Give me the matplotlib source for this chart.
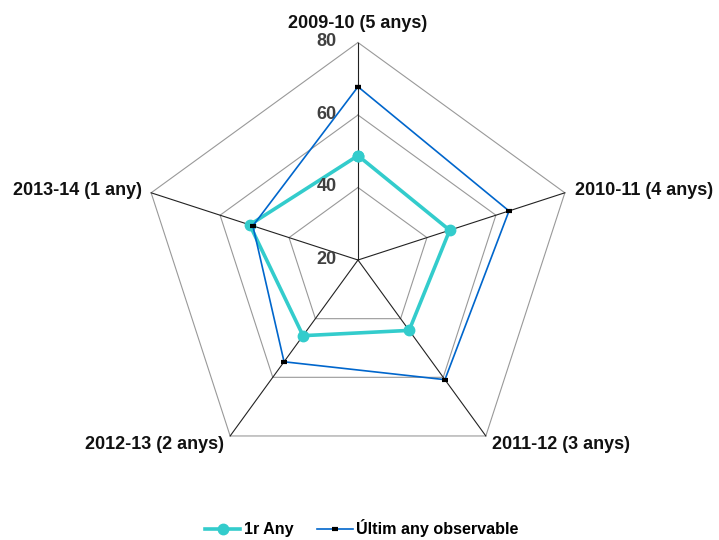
# Gráfica de radar: primer año vs último año observable por cohorte
import numpy as np
import matplotlib.pyplot as plt
from matplotlib import transforms

plt.rcParams['font.family'] = ['Liberation Sans', 'DejaVu Sans']

# Datos
categorias = ['2009-10 (5 anys)', '2010-11 (4 anys)', '2011-12 (3 anys)',
              '2012-13 (2 anys)', '2013-14 (1 any)']
primer_any = [48.8, 46.6, 44.0, 45.8, 51.4]
ultim_any = [67.8, 63.8, 60.8, 54.7, 50.5]
valores_eje = [20, 40, 60, 80]

n = len(categorias)
angulos = np.linspace(0, 2 * np.pi, n, endpoint=False)
ang_cerrado = np.append(angulos, angulos[0])

def cerrar(valores):
    return np.append(valores, valores[0])

fig = plt.figure(figsize=(7.19, 5.40), dpi=100)
ax = fig.add_axes([0.1954, 0.1157, 0.605, 0.8056], projection='polar')
ax.set_theta_offset(np.pi / 2)
ax.set_theta_direction(-1)
ax.set_ylim(valores_eje[0], valores_eje[-1])
ax.grid(False)
ax.spines['polar'].set_visible(False)
ax.set_xticks([])
ax.set_yticks([])
ax.patch.set_alpha(0)

# Anillos poligonales grises
for v in valores_eje[1:]:
    ax.plot(ang_cerrado, [v] * (n + 1), color='#999999', lw=0.8, zorder=1, clip_on=False)

# Radios negros
for a in angulos:
    ax.plot([a, a], [valores_eje[0], valores_eje[-1]], color='#222222', lw=0.8, zorder=1, clip_on=False)

# Series
ax.plot(ang_cerrado, cerrar(primer_any), color='#33CCCC', lw=2.6, marker='o',
        markersize=7.5, label='1r Any', zorder=3, clip_on=False)
ax.plot(ang_cerrado, cerrar(ultim_any), color='#0066CC', lw=1.2, marker='_',
        markersize=5, markeredgewidth=3, markeredgecolor='black',
        label='Últim any observable', zorder=4, clip_on=False)

# Etiquetas del eje radial
off_r = transforms.offset_copy(ax.transData, fig=fig, x=-21, y=1, units='dots')
for v in valores_eje:
    ax.text(0, v, str(v), transform=off_r, ha='right', va='center',
            fontsize=13, fontweight='bold', color='#404040')

# Etiquetas de categorías
desplaz = [(0, 19, 'center'), (10, 2, 'left'), (6, -9, 'left'),
           (-6, -9, 'right'), (-9, 2, 'right')]
for a, texto, (dx, dy, ha) in zip(angulos, categorias, desplaz):
    tr = transforms.offset_copy(ax.transData, fig=fig, x=dx, y=dy, units='dots')
    ax.text(a, valores_eje[-1], texto, transform=tr, ha=ha, va='center',
            fontsize=13, fontweight='bold', color='#111111')

leg = fig.legend(loc='lower center', bbox_to_anchor=(0.503, -0.022), ncol=2,
                 frameon=False, handlelength=2.2, handletextpad=0.2,
                 columnspacing=1.5, prop={'weight': 'bold', 'size': 11.6})

fig.savefig('out.png', dpi=100)
